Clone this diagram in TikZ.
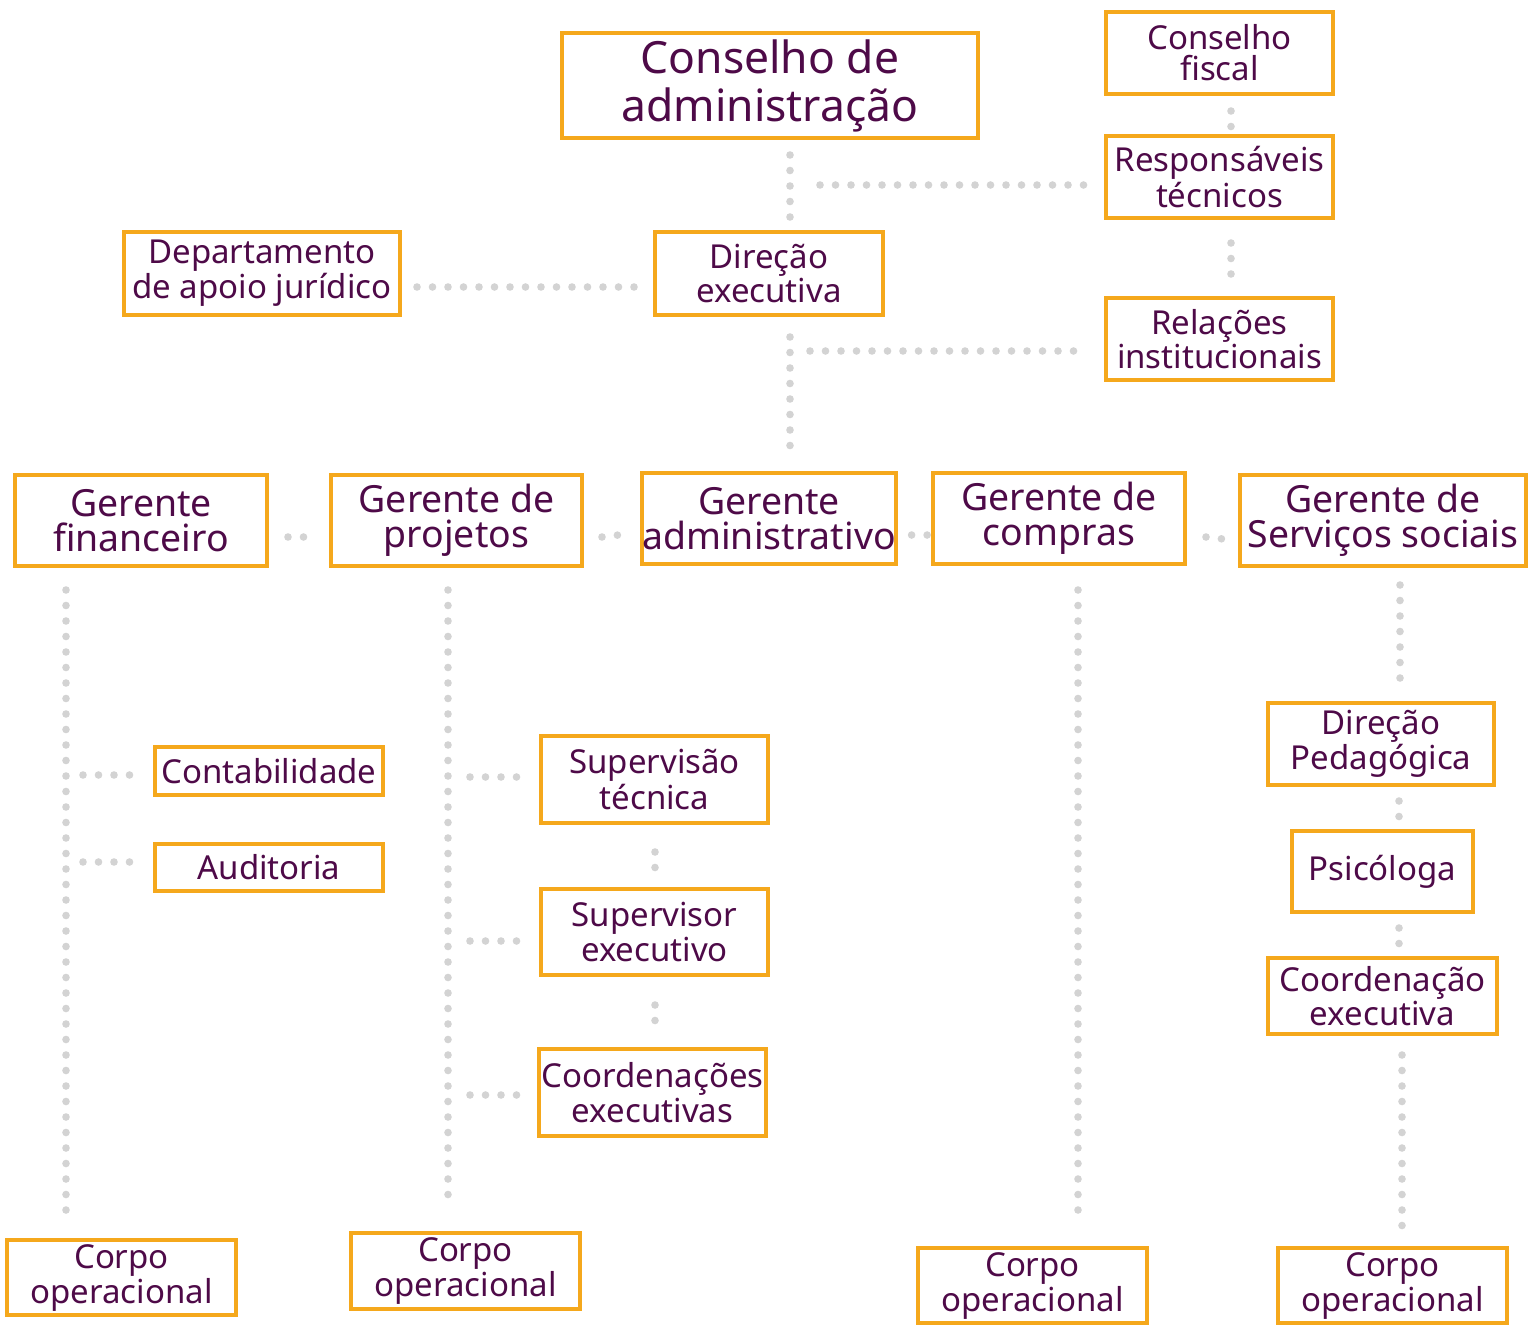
\documentclass[tikz,border=0pt]{standalone}
\usepackage{fontspec}
\setmainfont{Noto Sans}
\usetikzlibrary{calc}
\definecolor{boxorange}{RGB}{245,168,28}
\definecolor{textplum}{RGB}{78,10,72}
\definecolor{dotgray}{RGB}{211,211,211}

\begin{document}
\begin{tikzpicture}[x=0.5pt,y=-0.5pt,
    orgbox/.style={draw=boxorange,line width=2pt,fill=white,text=textplum,
      align=center,inner sep=0pt,font=\fontsize{16.5}{15.5}\selectfont},
    boxsize/.style 2 args={minimum width={(#1-4)*0.5pt},minimum height={(#2-4)*0.5pt}},
    bigtext/.style={font=\fontsize{22.2}{24}\selectfont},
    midtext/.style={font=\fontsize{18.7}{17.5}\selectfont},
    dots/.style={draw=dotgray,line width=3.8pt,line cap=round,dash pattern=on 0pt off 7.75pt}]
    \useasboundingbox (0,0) rectangle (1536,1327);

    %top level
    \node [orgbox,bigtext,boxsize={420}{109}] (cons) at (770,85.5) {Conselho de\\administração};
    \node [orgbox,boxsize={231}{86}] (fiscal) at (1219.5,53) {Conselho\\fiscal};
    \node [orgbox,boxsize={231}{86}] (resp) at (1219.5,177) {Responsáveis\\técnicos};
    \node [orgbox,boxsize={231}{86}] (rel) at (1219.5,339) {Relações\\institucionais};
    \node [orgbox,boxsize={280}{87}] (jur) at (262,273.5) {Departamento\\de apoio jurídico};
    \node [orgbox,boxsize={232}{87}] (dir) at (769,273.5) {Direção\\executiva};

    %gerentes
    \node [orgbox,midtext,boxsize={256}{95}] (gfin) at (141,520.5) {Gerente\\financeiro};
    \node [orgbox,midtext,boxsize={255}{95}] (gproj) at (456.5,520.5) {Gerente de\\projetos};
    \node [orgbox,midtext,boxsize={256}{95}] (gadm) at (769,518.5) {Gerente\\administrativo};
    \node [orgbox,midtext,boxsize={256}{95}] (gcomp) at (1059,518.5) {Gerente de\\compras};
    \node [orgbox,midtext,boxsize={290}{95}] (gserv) at (1383,520.5) {Gerente de\\Serviços sociais};

    %setores
    \node [orgbox,boxsize={232}{52}] (cont) at (269,771) {Contabilidade};
    \node [orgbox,boxsize={232}{51}] (aud) at (269,867.5) {Auditoria};
    \node [orgbox,boxsize={231}{91}] (suptec) at (654.5,779.5) {Supervisão\\técnica};
    \node [orgbox,boxsize={231}{90}] (supexe) at (654.5,932) {Supervisor\\executivo};
    \node [orgbox,boxsize={231}{91}] (coord) at (652.5,1092.5) {Coordenações\\executivas};
    \node [orgbox,boxsize={230}{86}] (dped) at (1381,744) {Direção\\Pedagógica};
    \node [orgbox,boxsize={185}{85}] (psi) at (1382.5,871.5) {Psicóloga};
    \node [orgbox,boxsize={233}{80}] (cexe) at (1382.5,996) {Coordenação\\executiva};

    %corpo operacional
    \node [orgbox,boxsize={233}{79}] (corpoA) at (121.5,1277.5) {Corpo\\operacional};
    \node [orgbox,boxsize={233}{80}] (corpoB) at (465.5,1271) {Corpo\\operacional};
    \node [orgbox,boxsize={233}{79}] (corpoC) at (1032.5,1285.5) {Corpo\\operacional};
    \node [orgbox,boxsize={233}{79}] (corpoD) at (1392.5,1285.5) {Corpo\\operacional};

    \coordinate (trunkA) at (790,185);
    \coordinate (trunkB) at (790,351);

    %ligacoes do topo
    \draw [dots] ($(cons.south)+(20,15)$) -- ($(dir.north)+(21,-11)$);
    \draw [dots] ($(trunkA)+(30,0)$) -- ($(resp.west)+(-13,8)$);
    \draw [dots] ($(fiscal.south)+(11.5,15)$) -- ($(resp.north)+(11.5,-4)$);
    \draw [dots] ($(resp.south)+(11.5,23)$) -- ($(rel.north)+(11.5,-20)$);
    \draw [dots] ($(jur.east)+(15,13.5)$) -- ($(dir.west)+(-15,13.5)$);
    \draw [dots] ($(dir.south)+(21,20)$) -- ($(gadm.north)+(21,-23)$);
    \draw [dots] ($(trunkB)+(20,0)$) -- ($(rel.west)+(-23,12)$);

    %entre gerentes
    \draw [dots] ($(gfin.east)+(19,16.5)$) -- ($(gproj.west)+(-24,16.5)$);
    \draw [dots] ($(gproj.east)+(18,16.5)$) -- ($(gadm.west)+(-22,16.5)$);
    \draw [dots] ($(gadm.east)+(14,16.5)$) -- ($(gcomp.west)+(-2,16.5)$);
    \draw [dots] ($(gcomp.east)+(19,18.5)$) -- ($(gserv.west)+(-15,18.5)$);

    %financeiro
    \draw [dots] ($(gfin.south)+(-75,22)$) -- ($(corpoA.north)+(-55.5,-22)$);
    \draw [dots] ($(cont.west)+(-70,4)$) -- ($(cont.west)+(-21,4)$);
    \draw [dots] ($(aud.west)+(-70,-5.5)$) -- ($(aud.west)+(-21,-5.5)$);

    %projetos
    \draw [dots] ($(gproj.south)+(-8.5,22)$) -- ($(corpoB.north)+(-17.5,-30)$);
    \draw [dots] ($(suptec.west)+(-69,-2.5)$) -- ($(suptec.west)+(-21,-2.5)$);
    \draw [dots] ($(supexe.west)+(-69,9)$) -- ($(supexe.west)+(-21,9)$);
    \draw [dots] ($(coord.west)+(-67,2.5)$) -- ($(coord.west)+(-19,2.5)$);
    \draw [dots] ($(suptec.south)+(0.5,27)$) -- ($(supexe.north)+(0.5,-18)$);
    \draw [dots] ($(supexe.south)+(0.5,28)$) -- ($(coord.north)+(2.5,-25)$);

    %compras
    \draw [dots] ($(gcomp.south)+(19,24)$) -- ($(corpoC.north)+(45.5,-30)$);

    %servicos sociais
    \draw [dots] ($(gserv.south)+(17,17)$) -- ($(dped.north)+(19,-22)$);
    \draw [dots] ($(dped.south)+(18,14)$) -- ($(psi.north)+(16.5,-10)$);
    \draw [dots] ($(psi.south)+(16.5,14)$) -- ($(cexe.north)+(16.5,-10)$);
    \draw [dots] ($(cexe.south)+(19.5,19)$) -- ($(corpoD.north)+(9.5,-20)$);
\end{tikzpicture}
\end{document}
